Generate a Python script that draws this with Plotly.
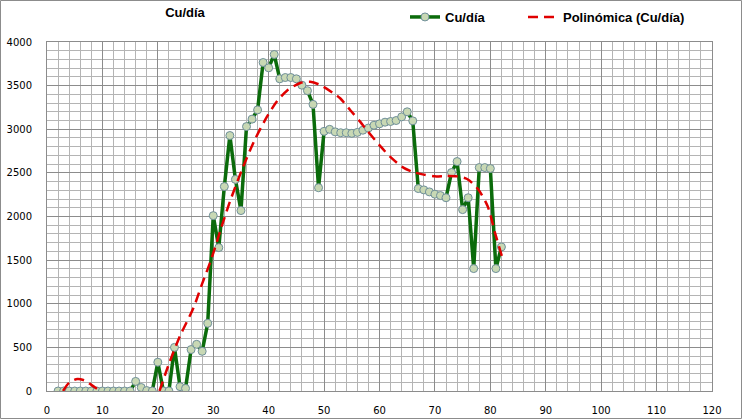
import plotly.graph_objects as go

# Daily Cu data
day = list(range(2, 83))
cu = [0, 0, 0, 0, 0, 0, 0, 0, 0, 0, 0, 0, 0, 0,          # 2..15
      110, 40, 5, 0, 330, 0, 0, 500, 50, 30,             # 16..25
      475, 535, 455, 776, 2010, 1643, 2343, 2928, 2425, 2068,  # 26..35
      3031, 3116, 3222, 3765, 3704, 3857, 3578, 3593, 3593, 3578,  # 36..45
      3505, 3442, 3285, 2330, 2976, 2999, 2970, 2960, 2960, 2953,  # 46..55
      2964, 2989, 3014, 3046, 3062, 3081, 3089, 3100, 3142, 3200,  # 56..65
      3096, 2320, 2305, 2282, 2256, 2240, 2215, 2504, 2630, 2079,  # 66..75
      2215, 1403, 2561, 2561, 2550, 1403, 1651]                    # 76..82

# Polynomial trendline (None = clipped below 0)
trend_x = [2.9, 4.0, 5.5, 7.0, 8.0, 9.5, None,
           20.3, 22, 24, 26.4, 28, 29.7, 31.5, 33, 35.4, 37.5, 39.7, 41.5, 43.3,
           45.7, 47.5, 49.3, 51.7, 52.9, 54.7, 56.5, 57.7, 60.1, 62, 64.3, 66.3,
           68, 70, 72, 74, 75.8, 77.7, 79.5, 80.9, 82.3]
trend_y = [0, 95, 138, 115, 70, 5, None,
           0, 310, 630, 948, 1230, 1521, 1883, 2170, 2571, 2880, 3144, 3320, 3442,
           3530, 3545, 3507, 3412, 3355, 3221, 3087, 2991, 2810, 2680, 2560, 2505,
           2480, 2460, 2464, 2460, 2430, 2320, 2120, 1800, 1500]

x_ticks = list(range(0, 121, 10))
y_ticks = list(range(0, 4001, 500))

fig = go.Figure()
fig.add_trace(go.Scatter(
    x=day, y=cu, name="<b>Cu/día</b>", mode="lines+markers",
    line=dict(color="#0b6b0b", width=3.5),
    marker=dict(size=8, color="#c8d8b4", line=dict(color="#6f8f9a", width=1)),
    legend="legend",
))
fig.add_trace(go.Scatter(
    x=trend_x, y=trend_y, name="<b>Polinómica (Cu/día)</b>", mode="lines",
    line=dict(color="#e00000", width=2.5, dash="10px,6px", shape="spline", smoothing=0.8),
    connectgaps=False, legend="legend2",
))

grid_major = "#8c8c8c"
grid_minor = "#b4b4b4"
fig.update_xaxes(
    range=[0, 120], tickvals=x_ticks, ticktext=[str(v) for v in x_ticks],
    showgrid=True, gridcolor=grid_major, gridwidth=1,
    minor=dict(dtick=2, showgrid=True, gridcolor=grid_minor, gridwidth=1),
    showline=True, linecolor=grid_major, mirror=True, zeroline=False,
    ticks="", ticklabelstandoff=10, automargin=False,
    tickfont=dict(family="DejaVu Sans", size=10, color="#000000"),
)
fig.update_yaxes(
    range=[0, 4000], tickvals=y_ticks, ticktext=[str(v) for v in y_ticks],
    showgrid=True, gridcolor=grid_major, gridwidth=1,
    minor=dict(dtick=100, showgrid=True, gridcolor=grid_minor, gridwidth=1),
    showline=True, linecolor=grid_major, mirror=True, zeroline=False,
    ticks="", ticklabelstandoff=12, automargin=False,
    tickfont=dict(family="DejaVu Sans", size=10, color="#000000"),
)

legend_font = dict(family="Liberation Sans Narrow, Liberation Sans", size=13, color="#000")
fig.update_layout(
    width=742, height=419,
    margin=dict(l=47, r=30, t=42, b=28, autoexpand=False),
    paper_bgcolor="white", plot_bgcolor="white",
    title=dict(text="<b>Cu/día</b>", x=185 / 742, xanchor="center",
               y=1 - 12 / 419, yanchor="middle", pad=dict(t=0, b=0, l=0, r=0),
               font=dict(family="Liberation Sans Narrow, Liberation Sans", size=13, color="#000")),
    legend=dict(orientation="h", xref="container", yref="container",
                x=405 / 742, y=1 - 17 / 419, xanchor="left", yanchor="middle",
                font=legend_font, itemwidth=30, bgcolor="rgba(0,0,0,0)"),
    legend2=dict(orientation="h", xref="container", yref="container",
                 x=523 / 742, y=1 - 17 / 419, xanchor="left", yanchor="middle",
                 font=legend_font, itemwidth=30, bgcolor="rgba(0,0,0,0)"),
    showlegend=True,
    shapes=[dict(type="rect", xref="paper", yref="paper",
                 x0=-46.5 / 665, x1=(741.5 - 47) / 665,
                 y0=-(27.5) / 349, y1=1 + (41.5) / 349,
                 line=dict(color="#8c8c8c", width=1), fillcolor="rgba(0,0,0,0)", layer="below")],
)
fig.write_html("out.html", config={"displayModeBar": False},
               post_script="document.body.style.margin='0';document.body.style.overflow='hidden';")
